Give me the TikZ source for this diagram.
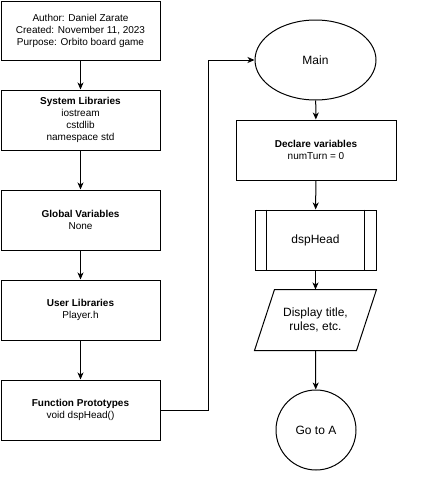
\documentclass[tikz,border=0pt]{standalone}
\usepackage{fontspec}
\setmainfont{Liberation Sans}
\usetikzlibrary{shapes.geometric,arrows.meta}
\begin{document}
\begin{tikzpicture}[x=1pt,y=-1pt,
  line width=1pt,
  every node/.style={font=\fontsize{10}{12}\selectfont, align=center, inner sep=0pt},
  block/.style={draw, rectangle, minimum width=159pt, minimum height=60pt},
  rblock/.style={draw, rectangle, minimum width=160pt, minimum height=60pt},
  big/.style={font=\fontsize{12}{14}\selectfont},
  flow/.style={-{Stealth[length=7pt,width=6pt,inset=2pt]}}
]
\useasboundingbox (0,0) rectangle (434,490);

% left column: file header and declarations
\node[block, minimum height=59pt] (hdr) at (80.5,30.5)
  {Author: Daniel Zarate\\Created: November 11, 2023\\Purpose: Orbito board game};
\node[block] (sys) at (80.5,120)
  {\textbf{System Libraries}\\iostream\\cstdlib\\namespace std};
\node[block] (glob) at (80.5,220)
  {\textbf{Global Variables}\\None};
\node[block] (usr) at (80.5,310)
  {\textbf{User Libraries}\\Player.h};
\node[block] (proto) at (80.5,410)
  {\textbf{Function Prototypes}\\void dspHead()};

% right column: main program
\node[draw, ellipse, minimum width=121pt, minimum height=80pt, big] (main) at (315.5,60) {Main};
\node[rblock] (decl) at (316,150) {\textbf{Declare variables}\\numTurn = 0};
\node[draw, rectangle, minimum width=121pt, minimum height=60pt, big] (dsp) at (315.5,240) {dspHead};
\draw ([xshift=12pt]dsp.north west) -- ([xshift=12pt]dsp.south west);
\draw ([xshift=-12pt]dsp.north east) -- ([xshift=-12pt]dsp.south east);
\node[rectangle, minimum width=121pt, minimum height=60pt, big] (disp) at (315.5,320) {Display title,\\rules, etc.};
\draw ([xshift=20pt]disp.north west) -- (disp.north east)
  -- ([xshift=-20pt]disp.south east) -- (disp.south west) -- cycle;
\node[draw, circle, minimum size=80pt, big] (goA) at (316,430) {Go to A};

% connectors
\draw[flow] (hdr) -- (sys);
\draw[flow] (sys) -- (glob);
\draw[flow] (glob) -- (usr);
\draw[flow] (usr) -- (proto);
\coordinate (bend) at (208,0);
\draw[flow] (proto.east) -- (proto.east -| bend) -- (bend |- main.west) -- (main.west);
\draw[flow] (main) -- (decl);
\draw[flow] (decl) -- (dsp);
\draw[flow] (dsp) -- (disp.north);
\draw[flow] (disp.south) -- (goA);
\end{tikzpicture}
\end{document}
